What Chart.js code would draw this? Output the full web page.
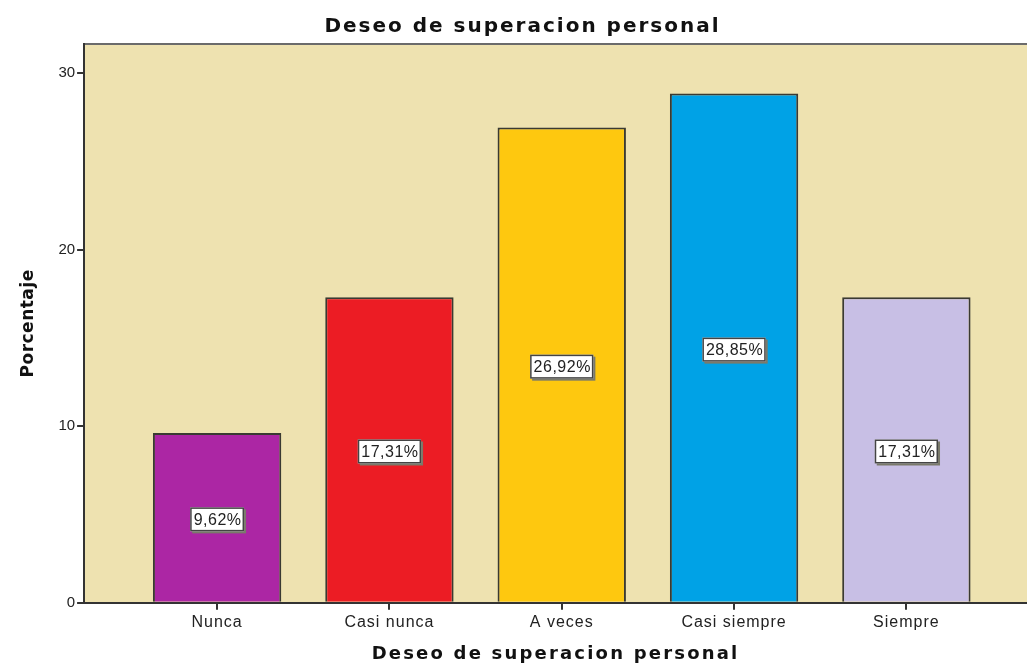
<!DOCTYPE html>
<html>
<head>
<meta charset="utf-8">
<script src="https://cdn.jsdelivr.net/npm/chart.js@4/dist/chart.umd.min.js"></script>
<style>
    html, body { margin: 0; padding: 0; background: #ffffff; }
    #wrap { width: 1027px; height: 663px; }
</style>
</head>
<body>
<div id="wrap"><canvas id="chart" width="1027" height="663"></canvas></div>
<script>
// 数据
const categories = ["Nunca", "Casi nunca", "A veces", "Casi siempre", "Siempre"];
const percentages = [9.62, 17.31, 26.92, 28.85, 17.31];
const barColors = ["#ac26a4", "#ec1c24", "#fec80f", "#00a2e6", "#c8bfe5"];
const yTicks = [0, 10, 20, 30];

const FONT = "'Liberation Sans', Arial, sans-serif";
const WIDE = "'DejaVu Sans', Verdana, sans-serif";

// 给某个绘制方法加字距
function spaced(obj, method, spacing) {
    const orig = obj[method];
    obj[method] = function (...args) {
        const c = this.ctx;
        c.save();
        c.letterSpacing = spacing;
        orig.apply(this, args);
        c.restore();
    };
}

const letterSpacing = {
    id: "letterSpacing",
    afterLayout(chart) {
        if (chart._spacedDone) return;
        chart._spacedDone = true;
        spaced(chart.titleBlock, "draw", "2px");
        spaced(chart.scales.x, "drawLabels", "1px");
        spaced(chart.scales.x, "drawTitle", "2.2px");
        spaced(chart.scales.y, "drawTitle", "0.5px");
    }
};

// 背景与上边框
const plotBackground = {
    id: "plotBackground",
    beforeDraw(chart) {
        const { ctx, chartArea: a } = chart;
        ctx.save();
        ctx.fillStyle = "#eee2b0";
        ctx.fillRect(a.left, a.top, a.right - a.left, a.bottom - a.top);
        ctx.strokeStyle = "#6b6b6b";
        ctx.lineWidth = 2;
        ctx.beginPath();
        ctx.moveTo(a.left, a.top);
        ctx.lineTo(a.right, a.top);
        ctx.stroke();
        ctx.restore();
    }
};

// 柱内百分比标签
const valueBoxes = {
    id: "valueBoxes",
    afterDatasetsDraw(chart) {
        const { ctx } = chart;
        const meta = chart.getDatasetMeta(0);
        ctx.save();
        ctx.font = "16px " + FONT;
        ctx.letterSpacing = "0.5px";
        ctx.textAlign = "center";
        ctx.textBaseline = "middle";
        meta.data.forEach((bar, i) => {
            const text = percentages[i].toFixed(2).replace(".", ",") + "%";
            const cx = bar.x;
            const cy = (bar.y + bar.base) / 2 + 2;
            const w = ctx.measureText(text).width + 6;
            const h = 24;
            // 阴影
            ctx.fillStyle = "#7a7a6a";
            ctx.fillRect(cx - w / 2 + 2, cy - h / 2 + 2, w, h);
            ctx.fillStyle = "#ffffff";
            ctx.fillRect(cx - w / 2, cy - h / 2, w, h);
            ctx.strokeStyle = "#444444";
            ctx.lineWidth = 1.5;
            ctx.strokeRect(cx - w / 2 + 0.75, cy - h / 2 + 0.75, w - 1.5, h - 1.5);
            ctx.fillStyle = "#222222";
            ctx.fillText(text, cx + 0.5, cy + 1);
        });
        ctx.restore();
    }
};

new Chart(document.getElementById("chart").getContext("2d"), {
    type: "bar",
    data: {
        datasets: [{
            data: percentages.map((v, i) => ({ x: i, y: v })),
            backgroundColor: barColors,
            borderColor: "#3a3a32",
            borderWidth: { top: 2, left: 2, right: 2, bottom: 0 },
            borderSkipped: false,
            barPercentage: 0.745,
            categoryPercentage: 1
        }]
    },
    options: {
        responsive: false,
        animation: false,
        layout: { padding: { top: 13, right: 0, bottom: 0, left: 18 } },
        plugins: {
            legend: { display: false },
            tooltip: { enabled: false },
            title: {
                display: true,
                text: "Deseo de superacion personal",
                color: "#111111",
                font: { family: WIDE, size: 20, weight: "bold" },
                padding: { top: 2, bottom: 5 }
            }
        },
        scales: {
            x: {
                type: "linear",
                offset: false,
                min: -0.772,
                max: 4.70,
                afterBuildTicks: axis => {
                    axis.ticks = categories.map((c, i) => ({ value: i }));
                },
                grid: {
                    offset: false,
                    drawOnChartArea: false,
                    drawTicks: true,
                    tickLength: 7,
                    color: "#333333",
                    lineWidth: 2
                },
                border: { display: true, color: "#333333", width: 2 },
                ticks: {
                    color: "#222222",
                    font: { family: FONT, size: 16 },
                    padding: 3,
                    maxRotation: 0,
                    autoSkip: false,
                    callback: v => categories[v] ?? ""
                },
                title: {
                    display: true,
                    text: "Deseo de superacion personal",
                    color: "#111111",
                    font: { family: WIDE, size: 18, weight: "bold", lineHeight: 1 },
                    padding: { top: 10, bottom: 0 }
                }
            },
            y: {
                min: 0,
                max: 31.65,
                afterBuildTicks: axis => {
                    axis.ticks = yTicks.map(v => ({ value: v }));
                },
                grid: {
                    drawOnChartArea: false,
                    drawTicks: true,
                    tickLength: 7,
                    color: "#333333",
                    lineWidth: 2
                },
                border: { display: true, color: "#333333", width: 2 },
                ticks: {
                    color: "#222222",
                    font: { family: FONT, size: 15 },
                    padding: 2
                },
                title: {
                    display: true,
                    text: "Porcentaje",
                    color: "#111111",
                    font: { family: WIDE, size: 17, weight: "bold" },
                    padding: { top: 0, bottom: 18 }
                }
            }
        }
    },
    plugins: [plotBackground, valueBoxes, letterSpacing]
});
</script>
</body>
</html>
